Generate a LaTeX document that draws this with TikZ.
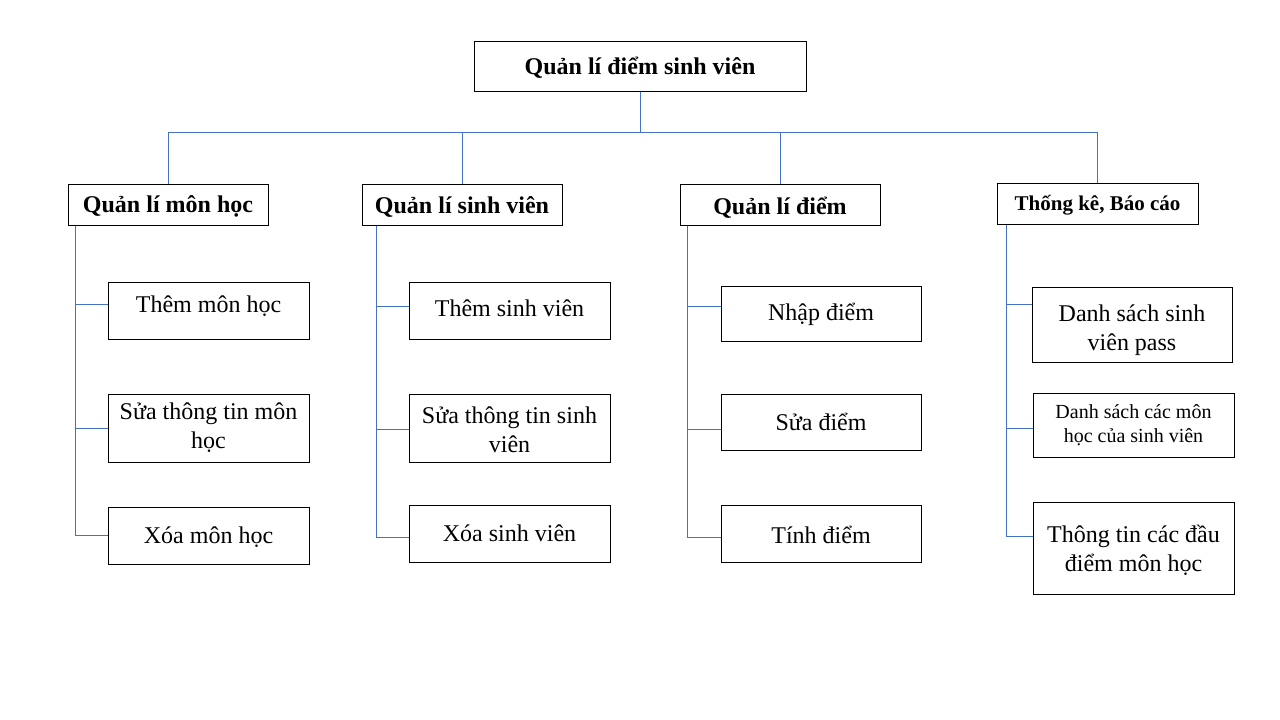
\documentclass[tikz,border=0pt]{standalone}
\usepackage{fontspec}
\setmainfont{Liberation Serif}
\definecolor{linkblue}{RGB}{68,114,196}
\newcommand{\shiftdown}[2]{\raisebox{-#1}[\height][\depth]{#2}}
\tikzset{
  box/.style={draw=black, line width=1pt, inner sep=0pt, align=center, fill=white},
  headbox/.style={box, font=\bfseries\fontsize{24}{28}\selectfont},
  leafbox/.style={box, font=\fontsize{24}{29}\selectfont, minimum width=201pt},
  conn/.style={draw=linkblue, line width=0.9pt},
}
\begin{document}
\begin{tikzpicture}[x=1pt,y=-1pt]
\useasboundingbox (0,0) rectangle (1280,720);
% root
\node[headbox, minimum width=332pt, minimum height=50pt] (root) at (640,66) {\shiftdown{2pt}{Quản lí điểm sinh viên}};
% level 1
\node[headbox, minimum width=200pt, minimum height=41pt] (qlmh) at (168,204.5) {\shiftdown{2pt}{Quản lí môn học}};
\node[headbox, minimum width=200pt, minimum height=41pt] (qlsv) at (462,204.5) {\shiftdown{2pt}{Quản lí sinh viên}};
\node[headbox, minimum width=200pt, minimum height=41pt] (qld) at (780,204.5) {\shiftdown{3pt}{Quản lí điểm}};
\node[box, font=\bfseries\fontsize{21}{25}\selectfont, minimum width=201pt, minimum height=41pt] (tkbc) at (1097.5,203.5) {\shiftdown{1.5pt}{Thống kê, Báo cáo}};
% column 1
\node[leafbox, minimum height=57pt] (them1) at (208.5,310.5) {\shiftdown{-4pt}{Thêm môn học}};
\node[leafbox, minimum height=68pt] (sua1) at (208.5,428) {Sửa thông tin môn\\học};
\node[leafbox, minimum height=57pt] (xoa1) at (208.5,535.5) {\shiftdown{2pt}{Xóa môn học}};
% column 2
\node[leafbox, minimum height=57pt] (them2) at (509.5,310.5) {\shiftdown{-2pt}{Thêm sinh viên}};
\node[leafbox, minimum height=68pt] (sua2) at (509.5,428) {\shiftdown{2pt}{\parbox{200pt}{\centering Sửa thông tin sinh\\viên}}};
\node[leafbox, minimum height=57pt] (xoa2) at (509.5,533.5) {Xóa sinh viên};
% column 3
\node[leafbox, minimum width=200pt, minimum height=55pt] (nhap) at (821,313.5) {\shiftdown{1pt}{Nhập điểm}};
\node[leafbox, minimum width=200pt, minimum height=56pt] (suad) at (821,422) {Sửa điểm};
\node[leafbox, minimum width=200pt, minimum height=57pt] (tinh) at (821,533.5) {\shiftdown{1pt}{Tính điểm}};
% column 4
\node[leafbox, minimum width=200pt, minimum height=75pt] (ds1) at (1132,324.5) {\shiftdown{6pt}{\parbox{200pt}{\centering Danh sách sinh\\viên pass}}};
\node[box, font=\fontsize{20}{24}\selectfont, minimum width=201pt, minimum height=64pt] (ds2) at (1133.5,425) {Danh sách các môn\\học của sinh viên};
\node[leafbox, minimum height=92pt] (tt) at (1133.5,548) {\shiftdown{2pt}{\parbox{200pt}{\centering Thông tin các đầu\\điểm môn học}}};
% root connectors
\draw[conn] (root.south) -- ++(0,41) -| (qlmh.north);
\draw[conn] (root.south) -- ++(0,41) -| (qlsv.north);
\draw[conn] (root.south) -- ++(0,41) -| (qld.north);
\draw[conn] (root.south) -- ++(0,41) -| (tkbc.north);
% column 1 connectors
\draw[conn] ([xshift=8pt]qlmh.south west) |- ([yshift=6.5pt]them1.west);
\draw[conn] ([xshift=8pt]qlmh.south west) |- (sua1.west);
\draw[conn] ([xshift=8pt]qlmh.south west) |- (xoa1.west);
% column 2 connectors
\draw[conn] ([xshift=15pt]qlsv.south west) |- ([yshift=4.5pt]them2.west);
\draw[conn] ([xshift=15pt]qlsv.south west) |- ([yshift=-1pt]sua2.west);
\draw[conn] ([xshift=15pt]qlsv.south west) |- ([yshift=-3.5pt]xoa2.west);
% column 3 connectors
\draw[conn] ([xshift=8pt]qld.south west) |- ([yshift=7.5pt]nhap.west);
\draw[conn] ([xshift=8pt]qld.south west) |- ([yshift=-7pt]suad.west);
\draw[conn] ([xshift=8pt]qld.south west) |- ([yshift=-3.5pt]tinh.west);
% column 4 connectors
\draw[conn] ([xshift=10pt]tkbc.south west) |- ([yshift=20.5pt]ds1.west);
\draw[conn] ([xshift=10pt]tkbc.south west) |- ([yshift=-3pt]ds2.west);
\draw[conn] ([xshift=10pt]tkbc.south west) |- ([yshift=12pt]tt.west);
\end{tikzpicture}
\end{document}
